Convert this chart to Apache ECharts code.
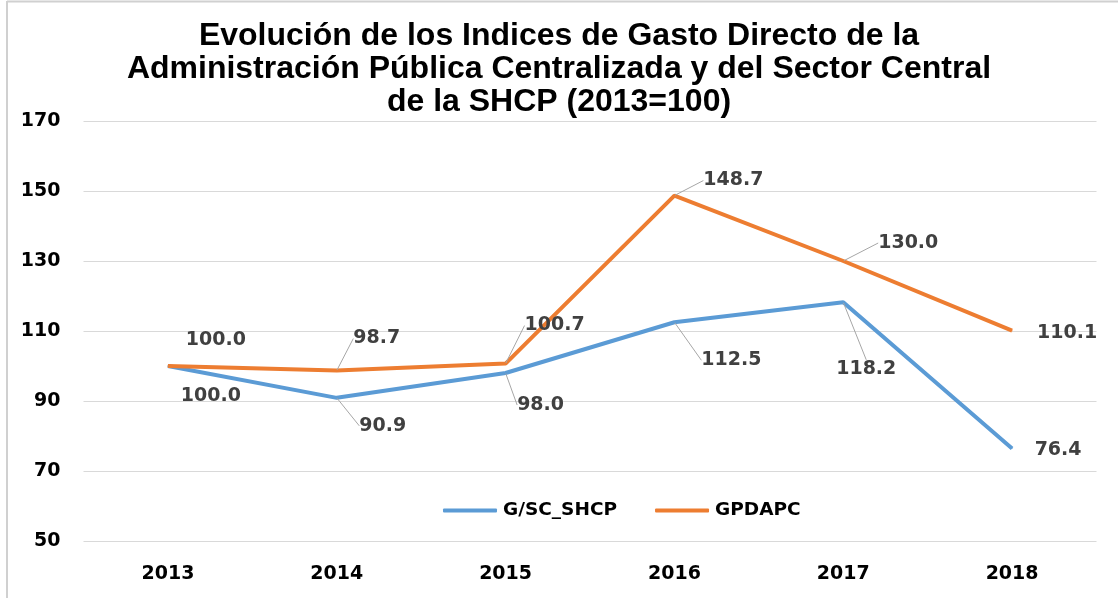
<!DOCTYPE html>
<html>
<head>
<meta charset="utf-8">
<script src="https://cdn.jsdelivr.net/npm/echarts@6/dist/echarts.min.js"></script>
<style>
  html, body { margin: 0; padding: 0; background: #fff; }
  #chart { width: 1118px; height: 598px; }
</style>
</head>
<body>
<div id="chart"></div>
<script>
const years = ['2013', '2014', '2015', '2016', '2017', '2018'];
const shcp = [100.0, 90.9, 98.0, 112.5, 118.2, 76.4];
const gpdapc = [100.0, 98.7, 100.7, 148.7, 130.0, 110.1];

// label offsets from each point (px), and whether a leader line shows
const shcpOffsets = [[43, 30], [46, 28], [35, 32], [57, 38], [23, 67], [46, 1]];
const shcpLeader = [false, true, true, true, true, false];
const gpdapcOffsets = [[48, -26], [40, -32], [49, -38], [59, -15], [65, -18], [55, 2]];
const gpdapcLeader = [false, true, true, true, true, false];

const chart = echarts.init(document.getElementById('chart'));

const labelStyle = {
    show: true,
    position: 'inside',
    fontFamily: 'DejaVu Sans',
    fontWeight: 'bold',
    fontSize: 19,
    color: '#404040',
    formatter: p => p.value.toFixed(1)
};

function items(values, leader) {
    return values.map((v, i) => ({
        value: v,
        labelLine: { show: leader[i] }
    }));
}

chart.setOption({
    animation: false,
    title: {
        text: 'Evolución de los Indices de Gasto Directo de la\nAdministración Pública Centralizada y del Sector Central\nde la SHCP (2013=100)',
        left: 'center',
        top: 15,
        textStyle: {
            fontFamily: 'Liberation Sans',
            fontWeight: 'bold',
            fontSize: 32,
            lineHeight: 33,
            color: '#000'
        }
    },
    legend: {
        top: 496,
        left: 438,
        itemWidth: 54,
        itemHeight: 4,
        itemGap: 38,
        icon: 'roundRect',
        textStyle: {
            fontFamily: 'DejaVu Sans',
            fontWeight: 'bold',
            fontSize: 18.5,
            color: '#000',
            padding: [0, 0, 0, 1]
        },
        data: ['G/SC_SHCP', 'GPDAPC']
    },
    grid: { left: 83.5, right: 21.5, top: 121, bottom: 57 },
    xAxis: {
        type: 'category',
        data: years,
        axisLine: { show: false },
        axisTick: { show: false },
        axisLabel: {
            margin: 24,
            fontFamily: 'DejaVu Sans',
            fontWeight: 'bold',
            fontSize: 19,
            color: '#000'
        }
    },
    yAxis: {
        type: 'value',
        min: 50,
        max: 170,
        interval: 20,
        axisLine: { show: false },
        axisTick: { show: false },
        splitLine: { lineStyle: { color: '#d9d9d9', width: 1 } },
        axisLabel: {
            margin: 23,
            fontFamily: 'DejaVu Sans',
            fontWeight: 'bold',
            fontSize: 19,
            color: '#000'
        }
    },
    series: [
        {
            name: 'G/SC_SHCP',
            type: 'line',
            data: items(shcp, shcpLeader),
            symbol: 'circle',
            symbolSize: 1,
            color: '#5B9BD5',
            lineStyle: { width: 4, color: '#5B9BD5' },
            label: labelStyle,
            labelLine: { show: true, lineStyle: { color: '#a6a6a6', width: 1 } },
            labelLayout: p => ({ dx: shcpOffsets[p.dataIndex][0], dy: shcpOffsets[p.dataIndex][1] })
        },
        {
            name: 'GPDAPC',
            type: 'line',
            data: items(gpdapc, gpdapcLeader),
            symbol: 'circle',
            symbolSize: 1,
            color: '#ED7D31',
            lineStyle: { width: 4, color: '#ED7D31' },
            label: labelStyle,
            labelLine: { show: true, lineStyle: { color: '#a6a6a6', width: 1 } },
            labelLayout: p => ({ dx: gpdapcOffsets[p.dataIndex][0], dy: gpdapcOffsets[p.dataIndex][1] })
        }
    ],
    graphic: [
        { type: 'line', shape: { x1: 7, y1: 1.5, x2: 1118, y2: 1.5 }, style: { stroke: '#d0d0d0', lineWidth: 2 } },
        { type: 'line', shape: { x1: 7, y1: 1, x2: 7, y2: 598 }, style: { stroke: '#d0d0d0', lineWidth: 2 } }
    ]
});
</script>
</body>
</html>
